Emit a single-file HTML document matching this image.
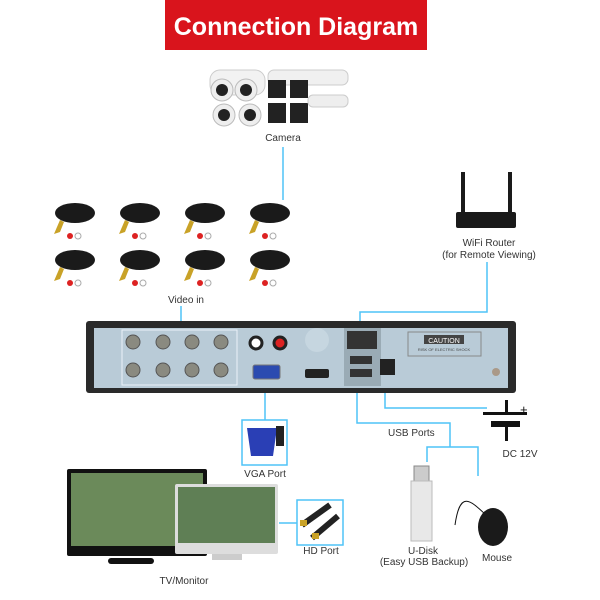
<!DOCTYPE html>
<html><head><style>body{margin:0;background:#fff}svg{display:block}text{font-family:"Liberation Sans",sans-serif}</style></head><body>
<svg width="600" height="600" viewBox="0 0 600 600" xmlns="http://www.w3.org/2000/svg">
<rect width="600" height="600" fill="#fff"/>
<rect x="165" y="0" width="262" height="50" fill="#d9141c"/>
<text x="296" y="35" font-size="25" font-weight="bold" fill="#fff" text-anchor="middle">Connection Diagram</text>
<!-- cameras -->
<g>
<rect x="210" y="70" width="55" height="25" rx="10" fill="#f2f2f2" stroke="#ccc"/>
<circle cx="222" cy="90" r="11" fill="#eee" stroke="#bbb"/><circle cx="222" cy="90" r="6" fill="#222"/>
<circle cx="246" cy="90" r="11" fill="#eee" stroke="#bbb"/><circle cx="246" cy="90" r="6" fill="#222"/>
<circle cx="224" cy="115" r="11" fill="#eee" stroke="#bbb"/><circle cx="224" cy="115" r="6" fill="#222"/>
<circle cx="250" cy="115" r="11" fill="#eee" stroke="#bbb"/><circle cx="250" cy="115" r="6" fill="#222"/>
<rect x="268" y="70" width="80" height="15" rx="6" fill="#f0f0f0" stroke="#ccc"/>
<rect x="268" y="80" width="18" height="18" fill="#222"/><rect x="290" y="80" width="18" height="18" fill="#222"/>
<rect x="268" y="103" width="18" height="20" fill="#222"/><rect x="290" y="103" width="18" height="20" fill="#222"/>
<rect x="308" y="95" width="40" height="12" rx="5" fill="#eee" stroke="#ccc"/>
</g>
<text x="283" y="141" font-size="10" fill="#333" text-anchor="middle">Camera</text>
<g stroke="#4fc3f7" stroke-width="1.5" fill="none">
<line x1="283" y1="147" x2="283" y2="200"/>
<line x1="181" y1="306" x2="181" y2="330"/>
<polyline points="487,262 487,312 360,312 360,333"/>
<line x1="265" y1="392" x2="265" y2="420"/>
<polyline points="357,392 357,423 450,423 450,447"/>
<polyline points="427,462 427,447 478,447 478,476"/>
<polyline points="385,392 385,408 487,408"/>
<line x1="279" y1="523" x2="297" y2="523"/>
<rect x="242" y="420" width="45" height="45"/>
<rect x="297" y="500" width="46" height="45"/>
</g>
<!-- cables -->
<g fill="#1a1a1a">
<g id="c"><ellipse cx="75" cy="213" rx="20" ry="10"/><path d="M60 220 l-6 14 l6 -2 l4 -10z" fill="#c9a227"/><circle cx="70" cy="236" r="3" fill="#d22"/><circle cx="78" cy="236" r="3" fill="#fff" stroke="#aaa"/></g>
<use href="#c" x="65"/><use href="#c" x="130"/><use href="#c" x="195"/>
<use href="#c" y="47"/><use href="#c" x="65" y="47"/><use href="#c" x="130" y="47"/><use href="#c" x="195" y="47"/>
</g>
<text x="186" y="303" font-size="10" fill="#333" text-anchor="middle">Video in</text>
<!-- router -->
<rect x="456" y="212" width="60" height="16" rx="2" fill="#1a1a1a"/>
<rect x="461" y="172" width="4" height="42" fill="#1a1a1a"/><rect x="508" y="172" width="4" height="42" fill="#1a1a1a"/>
<text x="489" y="246" font-size="10" fill="#333" text-anchor="middle">WiFi Router</text>
<text x="489" y="258" font-size="10" fill="#333" text-anchor="middle">(for Remote Viewing)</text>
<!-- DVR -->
<rect x="86" y="321" width="430" height="72" rx="3" fill="#2a2a2a"/>
<rect x="94" y="328" width="414" height="60" fill="#b9cbd7"/>
<rect x="122" y="330" width="115" height="55" fill="none" stroke="#eaf2f8"/>
<g fill="#8a8a80" stroke="#555">
<circle cx="133" cy="342" r="7"/><circle cx="163" cy="342" r="7"/><circle cx="192" cy="342" r="7"/><circle cx="221" cy="342" r="7"/>
<circle cx="133" cy="370" r="7"/><circle cx="163" cy="370" r="7"/><circle cx="192" cy="370" r="7"/><circle cx="221" cy="370" r="7"/>
</g>
<circle cx="256" cy="343" r="6" fill="#fff" stroke="#222" stroke-width="3"/>
<circle cx="280" cy="343" r="6" fill="#d22" stroke="#222" stroke-width="3"/>
<rect x="253" y="365" width="27" height="14" rx="2" fill="#2b4bb0" stroke="#777"/>
<circle cx="317" cy="340" r="12" fill="#c6d6e0"/>
<rect x="305" y="369" width="24" height="9" rx="2" fill="#222"/>
<rect x="344" y="328" width="37" height="58" fill="#9aabb5"/>
<rect x="347" y="331" width="30" height="18" fill="#333"/>
<rect x="350" y="356" width="22" height="8" fill="#333"/><rect x="350" y="369" width="22" height="8" fill="#333"/>
<rect x="380" y="359" width="15" height="16" fill="#222"/>
<rect x="408" y="332" width="73" height="24" fill="none" stroke="#888"/>
<rect x="424" y="335" width="40" height="9" fill="#444"/>
<text x="444" y="343" font-size="7" fill="#fff" text-anchor="middle">CAUTION</text>
<text x="444" y="351" font-size="4" fill="#444" text-anchor="middle">RISK OF ELECTRIC SHOCK</text>
<circle cx="496" cy="372" r="4" fill="#a98"/>
<!-- DC symbol -->
<rect x="483" y="412" width="44" height="3" fill="#111"/><rect x="491" y="421" width="29" height="6" fill="#111"/>
<rect x="505" y="400" width="3" height="12" fill="#111"/><rect x="505" y="427" width="3" height="14" fill="#111"/>
<text x="520" y="414" font-size="13" fill="#111">+</text>
<text x="520" y="457" font-size="10" fill="#333" text-anchor="middle">DC 12V</text>
<!-- VGA cable -->
<path d="M247 428 h30 l-4 28 h-22z" fill="#2a3fb5"/><rect x="276" y="426" width="8" height="20" fill="#222"/>
<text x="265" y="477" font-size="10" fill="#333" text-anchor="middle">VGA Port</text>
<!-- HDMI -->
<path d="M302 525 L330 505" stroke="#222" stroke-width="6"/><path d="M312 538 L338 516" stroke="#222" stroke-width="6"/>
<rect x="300" y="520" width="7" height="6" fill="#c9a227"/><rect x="312" y="533" width="7" height="6" fill="#c9a227"/>
<text x="321" y="554" font-size="10" fill="#333" text-anchor="middle">HD Port</text>
<text x="388" y="436" font-size="10" fill="#333">USB Ports</text>
<!-- monitors -->
<rect x="67" y="469" width="140" height="87" rx="2" fill="#111"/>
<rect x="71" y="473" width="132" height="73" fill="#6b8a5a"/>
<rect x="108" y="558" width="46" height="6" rx="3" fill="#111"/>
<rect x="175" y="484" width="103" height="70" rx="2" fill="#ddd"/>
<rect x="178" y="487" width="97" height="56" fill="#5f7f55"/>
<rect x="212" y="554" width="30" height="6" fill="#ccc"/>
<text x="184" y="584" font-size="10" fill="#333" text-anchor="middle">TV/Monitor</text>
<!-- USB disk -->
<rect x="414" y="466" width="15" height="16" fill="#ccc" stroke="#888"/>
<rect x="411" y="481" width="21" height="60" fill="#e8e8e8" stroke="#bbb"/>
<text x="423" y="554" font-size="10" fill="#333" text-anchor="middle">U-Disk</text>
<text x="424" y="565" font-size="10" fill="#333" text-anchor="middle">(Easy USB Backup)</text>
<path d="M486 515 C470 500 460 490 455 525" stroke="#111" fill="none"/>
<ellipse cx="493" cy="527" rx="15" ry="19" fill="#1a1a1a"/>
<text x="497" y="561" font-size="10" fill="#333" text-anchor="middle">Mouse</text>
</svg>
</body></html>
